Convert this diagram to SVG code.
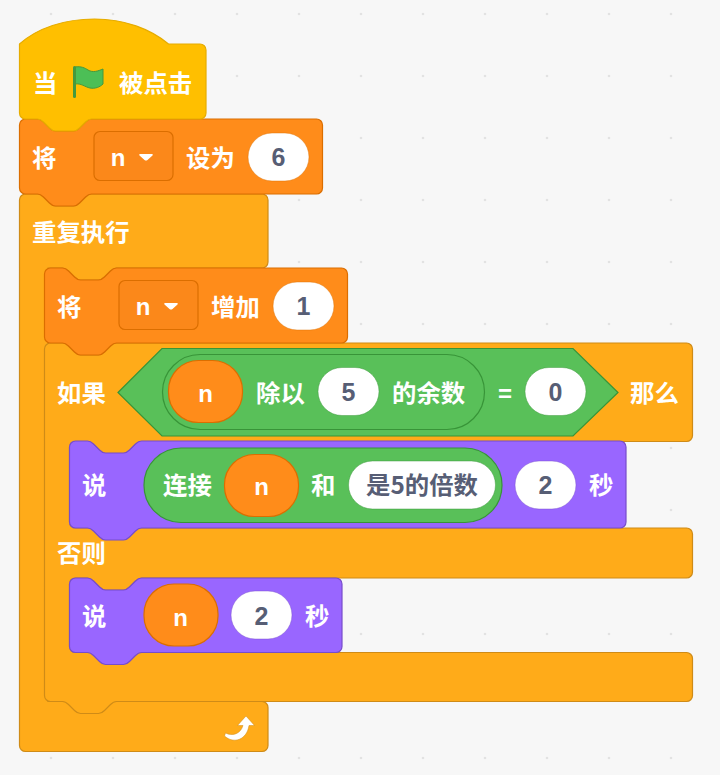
<svg xmlns="http://www.w3.org/2000/svg" width="720" height="775" viewBox="0 0 720 775">
<style>
.hat{fill:#FFBF00;stroke:#E6AC00;stroke-width:1.2}
.var{fill:#FF8C1A;stroke:#DB6E00;stroke-width:1.2}
.ctl{fill:#FFAB19;stroke:#CF8B17;stroke-width:1.2}
.say{fill:#9966FF;stroke:#774DCB;stroke-width:1.2}
.op{fill:#59C059;stroke:#389438;stroke-width:1.2}
.dd{fill:#FB881A;stroke:#DB6E00;stroke-width:1.2}
.inW{fill:#fff;stroke-width:1;stroke-opacity:.45}
.l{font-family:"Noto Sans CJK SC",sans-serif;font-size:24.4px;font-weight:700;fill:#fff}
.n{font-family:"Liberation Sans",sans-serif;font-size:25px;font-weight:700;fill:#575E75;text-anchor:middle}
.w{font-family:"Liberation Sans",sans-serif;font-size:24px;font-weight:700;fill:#fff;text-anchor:middle}
.t{font-family:"Noto Sans CJK SC",sans-serif;font-size:24.4px;font-weight:700;fill:#575E75}
</style>
<defs>
<pattern id="grid" patternUnits="userSpaceOnUse" x="20" y="-17" width="62" height="62"><circle cx="31" cy="31" r="1.3" fill="#e2e2e2"/></pattern>
</defs>
<rect width="720" height="775" fill="#F7F7F7"/>
<rect width="720" height="775" fill="url(#grid)"/>
<g id="forever">
<path class="ctl" d="M19.500,200 a6,6 0 0 1 6,-6 h12 c3,0 4.500,1.500 6,3 l6,6 c1.500,1.500 3,3 6,3 h18 c3,0 4.500,-1.500 6,-3 l6,-6 c1.500,-1.500 3,-3 6,-3 H262 a6,6 0 0 1 6,6 V262 a6,6 0 0 1 -6,6 H116.500 c-3,0 -4.500,1.500 -6,3 l-6,6 c-1.500,1.500 -3,3 -6,3 h-18 c-3,0 -4.500,-1.500 -6,-3 l-6,-6 c-1.500,-1.500 -3,-3 -6,-3 H48 V701.500 H262 a6,6 0 0 1 6,6 V745.500 a6,6 0 0 1 -6,6 H25.500 a6,6 0 0 1 -6,-6 Z"/>
<text class="l" x="32" y="241">重复执行</text>
<path fill="#fff" stroke="#CF8B17" stroke-width=".5" d="M225.500,733 c7,3.500 15,1 17.500,-7.500 l-5.500,0 l8.500,-9.500 l8.500,9.500 l-5.500,0 c-2,14 -15,19 -24.500,10.500 Z"/>
</g>
<g id="if-else">
<path class="ctl" d="M44.500,349 a6,6 0 0 1 6,-6 h12 c3,0 4.500,1.500 6,3 l6,6 c1.500,1.500 3,3 6,3 h18 c3,0 4.500,-1.500 6,-3 l6,-6 c1.500,-1.500 3,-3 6,-3 H686.500 a6,6 0 0 1 6,6 V435.500 a6,6 0 0 1 -6,6 H141.500 c-3,0 -4.500,1.500 -6,3 l-6,6 c-1.500,1.500 -3,3 -6,3 h-18 c-3,0 -4.500,-1.500 -6,-3 l-6,-6 c-1.500,-1.500 -3,-3 -6,-3 H75.500 a6,6 0 0 0 -6,6 V522 a6,6 0 0 0 6,6 H686.500 a6,6 0 0 1 6,6 V572 a6,6 0 0 1 -6,6 H141.500 c-3,0 -4.500,1.500 -6,3 l-6,6 c-1.500,1.500 -3,3 -6,3 h-18 c-3,0 -4.500,-1.500 -6,-3 l-6,-6 c-1.500,-1.500 -3,-3 -6,-3 H75.500 a6,6 0 0 0 -6,6 V646.500 a6,6 0 0 0 6,6 H686.500 a6,6 0 0 1 6,6 V695.500 a6,6 0 0 1 -6,6 H116.500 c-3,0 -4.500,1.500 -6,3 l-6,6 c-1.500,1.500 -3,3 -6,3 h-18 c-3,0 -4.500,-1.500 -6,-3 l-6,-6 c-1.500,-1.500 -3,-3 -6,-3 H50.500 a6,6 0 0 1 -6,-6 Z"/>
<text class="l" x="57" y="402">如果</text>
<text class="l" x="630" y="402">那么</text>
<text class="l" x="57" y="562">否则</text>
<path class="op" d="M118,392.500 L162,348.500 H573 L618,392.500 L573,436 H162 Z"/>
<rect class="op" x="162.500" y="354.500" width="322" height="75" rx="37.500"/>
<rect class="var" x="168.500" y="360.500" width="74" height="62" rx="30"/>
<text class="w" x="205.500" y="402">n</text>
<text class="l" x="256" y="402">除以</text>
<rect class="inW" stroke="#389438" x="318" y="367.500" width="61" height="48" rx="24"/>
<text class="n" x="348.500" y="401">5</text>
<text class="l" x="392" y="402">的余数</text>
<text class="w" x="505" y="402">=</text>
<rect class="inW" stroke="#389438" x="525" y="367.500" width="61" height="48" rx="24"/>
<text class="n" x="555.500" y="401">0</text>
</g>
<g id="say-else">
<path class="say" d="M69.500,584 a6,6 0 0 1 6,-6 h12 c3,0 4.500,1.500 6,3 l6,6 c1.500,1.500 3,3 6,3 h18 c3,0 4.500,-1.500 6,-3 l6,-6 c1.500,-1.500 3,-3 6,-3 H336 a6,6 0 0 1 6,6 V646.500 a6,6 0 0 1 -6,6 H141.500 c-3,0 -4.500,1.500 -6,3 l-6,6 c-1.500,1.500 -3,3 -6,3 h-18 c-3,0 -4.500,-1.500 -6,-3 l-6,-6 c-1.500,-1.500 -3,-3 -6,-3 H75.500 a6,6 0 0 1 -6,-6 Z"/>
<text class="l" x="82" y="625">说</text>
<rect class="var" x="144" y="584" width="74" height="62" rx="30"/>
<text class="w" x="180.500" y="626">n</text>
<rect class="inW" stroke="#774DCB" x="231" y="591" width="61" height="48" rx="24"/>
<text class="n" x="261.500" y="625">2</text>
<text class="l" x="305" y="625">秒</text>
</g>
<g id="say-then">
<path class="say" d="M69.500,447 a6,6 0 0 1 6,-6 h12 c3,0 4.500,1.500 6,3 l6,6 c1.500,1.500 3,3 6,3 h18 c3,0 4.500,-1.500 6,-3 l6,-6 c1.500,-1.500 3,-3 6,-3 H620 a6,6 0 0 1 6,6 V522 a6,6 0 0 1 -6,6 H141.500 c-3,0 -4.500,1.500 -6,3 l-6,6 c-1.500,1.500 -3,3 -6,3 h-18 c-3,0 -4.500,-1.500 -6,-3 l-6,-6 c-1.500,-1.500 -3,-3 -6,-3 H75.500 a6,6 0 0 1 -6,-6 Z"/>
<text class="l" x="82" y="494">说</text>
<rect class="op" x="144" y="448" width="358" height="74.500" rx="37"/>
<text class="l" x="163" y="494">连接</text>
<rect class="var" x="224.500" y="454.500" width="74" height="62" rx="30"/>
<text class="w" x="261.500" y="495">n</text>
<text class="l" x="311" y="494">和</text>
<rect class="inW" stroke="#389438" x="348.500" y="461" width="147" height="48" rx="24"/>
<text class="t" x="366" y="494">是5的倍数</text>
<rect class="inW" stroke="#774DCB" x="515" y="461" width="61" height="48" rx="24"/>
<text class="n" x="545.500" y="494">2</text>
<text class="l" x="589" y="494">秒</text>
</g>
<g id="change">
<path class="var" d="M44.500,274 a6,6 0 0 1 6,-6 h12 c3,0 4.500,1.500 6,3 l6,6 c1.500,1.500 3,3 6,3 h18 c3,0 4.500,-1.500 6,-3 l6,-6 c1.500,-1.500 3,-3 6,-3 H341.500 a6,6 0 0 1 6,6 V337 a6,6 0 0 1 -6,6 H116.500 c-3,0 -4.500,1.500 -6,3 l-6,6 c-1.500,1.500 -3,3 -6,3 h-18 c-3,0 -4.500,-1.500 -6,-3 l-6,-6 c-1.500,-1.500 -3,-3 -6,-3 H50.500 a6,6 0 0 1 -6,-6 Z"/>
<text class="l" x="57" y="316">将</text>
<rect class="dd" x="119" y="280.500" width="79" height="49" rx="6"/>
<text class="w" x="143" y="315">n</text>
<path fill="#fff" d="M163,303 h14 q1.500,0 .5,1.500 l-5,4.500 q-1.500,1.200 -3,0 l-5,-4.500 q-1,-1.500 .5,-1.500 Z"/>
<text class="l" x="211" y="316">增加</text>
<rect class="inW" stroke="#DB6E00" x="273" y="282" width="61" height="48" rx="24"/>
<text class="n" x="303.500" y="315">1</text>
</g>
<g id="set">
<path class="var" d="M19.500,125 a6,6 0 0 1 6,-6 h12 c3,0 4.500,1.500 6,3 l6,6 c1.500,1.500 3,3 6,3 h18 c3,0 4.500,-1.500 6,-3 l6,-6 c1.500,-1.500 3,-3 6,-3 H316.500 a6,6 0 0 1 6,6 V188 a6,6 0 0 1 -6,6 H91.500 c-3,0 -4.500,1.500 -6,3 l-6,6 c-1.500,1.500 -3,3 -6,3 h-18 c-3,0 -4.500,-1.500 -6,-3 l-6,-6 c-1.500,-1.500 -3,-3 -6,-3 H25.500 a6,6 0 0 1 -6,-6 Z"/>
<text class="l" x="32" y="167">将</text>
<rect class="dd" x="94" y="131.500" width="79" height="49" rx="6"/>
<text class="w" x="118" y="166">n</text>
<path fill="#fff" d="M138,154 h14 q1.500,0 .5,1.500 l-5,4.500 q-1.500,1.200 -3,0 l-5,-4.500 q-1,-1.500 .5,-1.500 Z"/>
<text class="l" x="186" y="167">设为</text>
<rect class="inW" stroke="#DB6E00" x="248" y="133" width="61" height="48" rx="24"/>
<text class="n" x="278.500" y="166">6</text>
</g>
<g id="hat">
<path class="hat" d="M19.500,44 c18,-16 45,-25 75,-25 c30,0 56,10 74,25 H200 a6,6 0 0 1 6,6 V113 a6,6 0 0 1 -6,6 H91.500 c-3,0 -4.500,1.500 -6,3 l-6,6 c-1.500,1.500 -3,3 -6,3 h-18 c-3,0 -4.500,-1.500 -6,-3 l-6,-6 c-1.500,-1.500 -3,-3 -6,-3 H25.500 a6,6 0 0 1 -6,-6 Z"/>
<text class="l" x="33" y="92">当</text>
<path fill="#4CBF56" stroke="#45993D" stroke-width="1" d="M75,67 c6,-1 10,1 13,3 c5,3 10,1 15,-1 V84 c-3,3 -8,5 -13,4 c-5,-1 -9,-5 -15,-4 Z"/>
<rect x="73" y="66" width="3" height="32" rx="1.500" fill="#45993D"/>
<text class="l" x="119" y="92">被点击</text>
</g>
</svg>
